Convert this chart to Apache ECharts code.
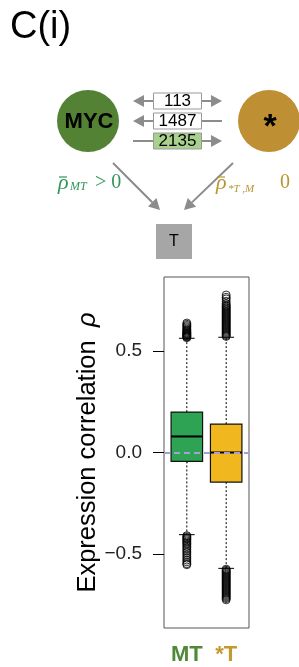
<!DOCTYPE html>
<html>
<head>
<meta charset="UTF-8">
<script src="https://cdn.jsdelivr.net/npm/echarts@6/dist/echarts.min.js"></script>
</head>
<body style="margin:0;background:#fff;">
<div id="chart" style="width:299px;height:667px;"></div>
<script type="text/javascript">

// groups on the x axis
var groups = ['MT', '*T'];
var groupPos = [1, 2];

// box statistics (whisker low, Q1, median, Q3, whisker high)
var whiskerLow  = [-0.405, -0.571];
var q1          = [-0.044, -0.146];
var median      = [0.079, 0.000];
var q3          = [0.199, 0.140];
var whiskerHigh = [0.563, 0.568];

// outliers
var mtOutliers = [0.566, 0.569, 0.572, 0.575, 0.578, 0.581, 0.584, 0.587, 0.590, 0.594, 0.598, 0.603,
    0.608, 0.614, 0.620, 0.626, 0.632, 0.638,
    -0.410, -0.415, -0.420, -0.425, -0.430, -0.436, -0.442, -0.448, -0.455, -0.462, -0.470, -0.478,
    -0.486, -0.494, -0.503, -0.512, -0.521, -0.530, -0.539, -0.548, -0.553];
var stOutliers = [0.572, 0.577, 0.582, 0.587, 0.592, 0.597, 0.602, 0.607, 0.612, 0.617, 0.622, 0.627,
    0.632, 0.637, 0.642, 0.647, 0.652, 0.657, 0.662, 0.667, 0.672, 0.677, 0.682, 0.687, 0.692, 0.697,
    0.702, 0.707, 0.712, 0.717, 0.722, 0.727, 0.735, 0.745, 0.757, 0.765, 0.776,
    -0.575, -0.580, -0.585, -0.590, -0.595, -0.600, -0.605, -0.610, -0.615, -0.620, -0.625, -0.630,
    -0.635, -0.640, -0.645, -0.650, -0.655, -0.660, -0.665, -0.670, -0.675, -0.680, -0.685, -0.690,
    -0.695, -0.700, -0.705, -0.710, -0.715, -0.720, -0.726];

// y ticks
var yTicks = [-0.5, 0, 0.5];

// edge counts in the schematic
var edgeCounts = ['113', '1487', '2135'];

var boxColors = ['#2fa354', '#f0b71e'];
var labelColors = ['#4f8a36', '#c29a30'];

var chart = echarts.init(document.getElementById('chart'));

var boxData = groups.map(function (g, i) {
    return [groupPos[i], whiskerLow[i], q1[i], median[i], q3[i], whiskerHigh[i], i];
});
var outlierData = [];
mtOutliers.forEach(function (v) { outlierData.push([groupPos[0], v]); });
stOutliers.forEach(function (v) { outlierData.push([groupPos[1], v]); });

function renderBox(params, api) {
    var x = api.value(0);
    var lo = api.coord([x, api.value(1)]);
    var b1 = api.coord([x, api.value(2)]);
    var md = api.coord([x, api.value(3)]);
    var b3 = api.coord([x, api.value(4)]);
    var hi = api.coord([x, api.value(5)]);
    var idx = api.value(6);
    var hw = api.size([0.8, 0])[0] / 2;
    var cw = hw / 2;
    var cx = lo[0];
    var dotted = {stroke: '#000', lineWidth: 1, lineDash: [2, 2]};
    return {
        type: 'group',
        children: [
            {type: 'line', shape: {x1: cx, y1: b3[1], x2: cx, y2: hi[1]}, style: dotted},
            {type: 'line', shape: {x1: cx, y1: b1[1], x2: cx, y2: lo[1]}, style: dotted},
            {type: 'line', shape: {x1: cx - cw, y1: hi[1], x2: cx + cw, y2: hi[1]}, style: {stroke: '#000', lineWidth: 1}},
            {type: 'line', shape: {x1: cx - cw, y1: lo[1], x2: cx + cw, y2: lo[1]}, style: {stroke: '#000', lineWidth: 1}},
            {type: 'rect', shape: {x: cx - hw, y: b3[1], width: hw * 2, height: b1[1] - b3[1]},
                style: {fill: boxColors[idx], stroke: '#111', lineWidth: 1.2}},
            {type: 'line', shape: {x1: cx - hw, y1: md[1], x2: cx + hw, y2: md[1]}, style: {stroke: '#000', lineWidth: 2}}
        ]
    };
}

// schematic helpers
var grey = '#8c8c8c';
function arrow(x1, y1, x2, y2) {
    var a = Math.atan2(y2 - y1, x2 - x1);
    var L = 11, W = 6;
    var bx = x2 - L * Math.cos(a), by = y2 - L * Math.sin(a);
    var px = -Math.sin(a) * W, py = Math.cos(a) * W;
    return [
        {type: 'line', shape: {x1: x1, y1: y1, x2: bx, y2: by}, style: {stroke: grey, lineWidth: 2}},
        {type: 'polygon', shape: {points: [[x2, y2], [bx + px, by + py], [bx - px, by - py]]}, style: {fill: grey}}
    ];
}
function seg(x1, y1, x2, y2) {
    return {type: 'line', shape: {x1: x1, y1: y1, x2: x2, y2: y2}, style: {stroke: grey, lineWidth: 2}};
}
function txt(x, y, s, font, color, align) {
    return {type: 'text', style: {x: x, y: y, text: s, font: font, fill: color,
        textAlign: align || 'left', textVerticalAlign: 'middle'}};
}

var boxRows = [101, 121, 141];
var rowFills = ['#ffffff', '#ffffff', '#a9d18e'];
var schematic = [];
schematic.push(txt(10, 28, 'C(i)', '38px "Liberation Sans", Arial', '#000'));
schematic.push({type: 'circle', shape: {cx: 88, cy: 121, r: 31}, style: {fill: '#548235'}});
schematic.push(txt(89, 122, 'MYC', 'bold 22px "Liberation Sans", Arial', '#000', 'center'));
schematic.push({type: 'circle', shape: {cx: 269, cy: 121, r: 31}, style: {fill: '#bf9033'}});
schematic.push(txt(270, 128, '*', 'bold 34px "Liberation Sans", Arial', '#000', 'center'));
edgeCounts.forEach(function (c, i) {
    schematic.push({type: 'rect', shape: {x: 153.5, y: boxRows[i] - 8, width: 48, height: 16},
        style: {fill: rowFills[i], stroke: '#999', lineWidth: 1}});
    schematic.push(txt(177.5, boxRows[i] + 0.5, c, '17px "Liberation Sans", Arial', '#000', 'center'));
});
schematic = schematic
    .concat(arrow(153, 101, 133, 101)).concat(arrow(202, 101, 222, 101))
    .concat(arrow(153, 121, 133, 121)).concat([seg(202, 121, 222, 121)])
    .concat([seg(133, 141, 153, 141)]).concat(arrow(202, 141, 222, 141))
    .concat(arrow(113, 163, 160, 210)).concat(arrow(233, 163, 184, 210));

var green = '#33955a', gold = '#b8962f';
schematic.push(txt(58, 183, 'ρ', 'italic 22px "Liberation Serif", serif', green));
schematic.push({type: 'line', shape: {x1: 59, y1: 177, x2: 67, y2: 177}, style: {stroke: green, lineWidth: 1.2}});
schematic.push(txt(70, 187, 'MT', 'italic 12px "Liberation Serif", serif', green));
schematic.push(txt(95, 183, '> 0', '20px "Liberation Serif", serif', green));
schematic.push(txt(216, 183, 'ρ', 'italic 22px "Liberation Serif", serif', gold));
schematic.push({type: 'line', shape: {x1: 217, y1: 177, x2: 225, y2: 177}, style: {stroke: gold, lineWidth: 1.2}});
schematic.push(txt(228, 189, '*T ,M', 'italic 11px "Liberation Serif", serif', gold));
schematic.push(txt(280, 183, '0', '20px "Liberation Serif", serif', gold));
schematic.push({type: 'rect', shape: {x: 156, y: 224, width: 36, height: 35}, style: {fill: '#a6a6a6'}});
schematic.push(txt(174, 242, 'T', '16px "Liberation Sans", Arial', '#000', 'center'));

var option = {
    animation: false,
    backgroundColor: '#fff',
    graphic: {elements: schematic},
    grid: {left: 164, right: 50, top: 277, bottom: 39, show: true, borderColor: '#555', borderWidth: 1},
    xAxis: {
        type: 'value', min: 0.42, max: 2.58,
        axisLine: {show: false},
        splitLine: {show: false},
        axisTick: {show: true, customValues: groupPos, length: 10, lineStyle: {color: '#000'}},
        axisLabel: {
            customValues: groupPos, margin: 16,
            formatter: function (v) {
                var i = groupPos.indexOf(v);
                return '{g' + i + '|' + groups[i] + '}';
            },
            rich: {
                g0: {color: labelColors[0], fontSize: 22, fontWeight: 'bold', fontFamily: 'Liberation Sans'},
                g1: {color: labelColors[1], fontSize: 22, fontWeight: 'bold', fontFamily: 'Liberation Sans'}
            }
        }
    },
    yAxis: {
        type: 'value', min: -0.865, max: 0.865,
        axisLine: {show: false},
        splitLine: {show: false},
        axisTick: {show: true, customValues: yTicks, length: 11, lineStyle: {color: '#000'}},
        axisLabel: {
            customValues: yTicks, margin: 22, fontSize: 19, color: '#222', fontFamily: 'Liberation Sans',
            formatter: function (v) { return (v < 0 ? '\u2212' : '') + Math.abs(v).toFixed(1); }
        },
        name: '{a|Expression correlation}    {b|ρ}',
        nameLocation: 'middle',
        nameGap: 55,
        nameTextStyle: {
            rich: {
                a: {fontSize: 25.5, color: '#000', fontFamily: 'Liberation Sans'},
                b: {fontSize: 25.5, color: '#000', fontStyle: 'italic', fontFamily: 'Liberation Sans'}
            }
        }
    },
    series: [
        {
            type: 'custom',
            renderItem: renderBox,
            data: boxData,
            z: 2,
            markLine: {
                silent: true, symbol: 'none', label: {show: false},
                lineStyle: {color: '#a59fd8', type: [6, 4], width: 2},
                data: [{yAxis: 0}]
            }
        },
        {
            type: 'scatter',
            data: outlierData,
            symbol: 'circle',
            symbolSize: 8,
            z: 3,
            itemStyle: {color: 'rgba(0,0,0,0)', borderColor: '#000', borderWidth: 1}
        }
    ]
};

chart.setOption(option);
</script>
</body>
</html>
